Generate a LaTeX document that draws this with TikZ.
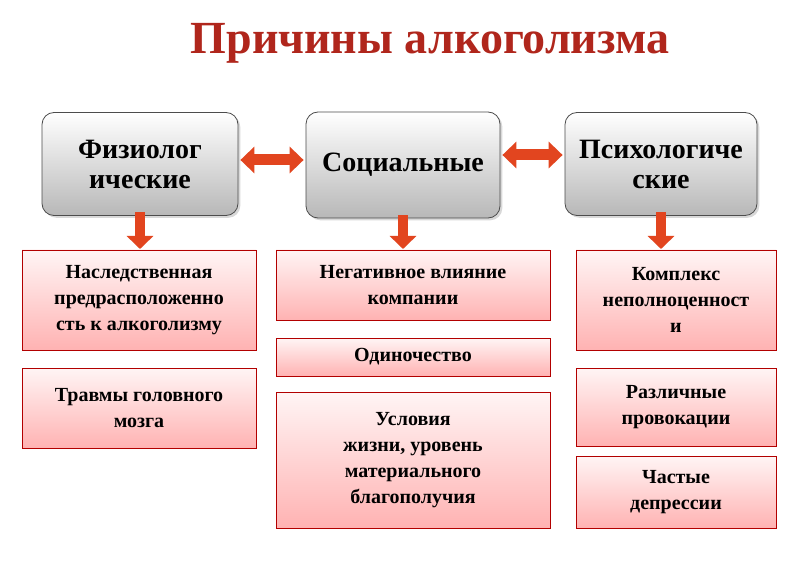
\documentclass[tikz,border=0pt]{standalone}
\usepackage{fontspec}
\setmainfont{Liberation Serif}
\usetikzlibrary{shadows,arrows.meta}
\definecolor{dred}{HTML}{B0261C}
\definecolor{ared}{HTML}{E2451F}
\tikzset{
 grey/.style={draw=black!70,line width=0.8pt,rounded corners=12pt,top color=white,bottom color=black!28,align=center,font=\fontsize{28}{30}\selectfont\bfseries,inner sep=0pt,drop shadow={opacity=0.3}},
 pink/.style={draw=red!70!black,line width=0.6pt,top color=red!4,bottom color=red!30,align=center,font=\fontsize{20}{26}\selectfont\bfseries,inner sep=0pt},
}
\begin{document}
\begin{tikzpicture}[x=1pt,y=-1pt]
\useasboundingbox (0,0) rectangle (800,561);
\fill[white] (0,0) rectangle (800,561);
\node[text=dred,font=\fontsize{46}{48}\selectfont\bfseries] (title) at (430,43) {Причины алкоголизма};
% grey boxes
\node[grey,minimum width=196pt,minimum height=103pt] (fiz) at (140,164) {Физиолог\\ические};
\node[grey,minimum width=194pt,minimum height=106pt] (soc) at (403,165) {Социальные};
\node[grey,minimum width=192pt,minimum height=103pt] (psy) at (661,164) {Психологиче\\ские};
% double arrows
\foreach \a/\b/\y in {fiz/soc/160,soc/psy/155}{
 \draw[ared,line width=11pt,{Triangle[length=14pt,width=26pt]}-{Triangle[length=14pt,width=26pt]}] ([xshift=2pt]\a.east|-0,\y) -- ([xshift=-2pt]\b.west|-0,\y);
}
% pink boxes
\node[pink,minimum width=234pt,minimum height=100pt] (f1) at (139,300) {Наследственная\\предрасположенно\\сть к алкоголизму};
\node[pink,minimum width=234pt,minimum height=80pt] (f2) at (139,408) {Травмы головного\\мозга};
\node[pink,minimum width=274pt,minimum height=70pt] (s1) at (413,285) {Негативное влияние\\компании};
\node[pink,minimum width=274pt,minimum height=38pt] (s2) at (413,357) {Одиночество};
\node[pink,minimum width=274pt,minimum height=136pt] (s3) at (413,460) {Условия\\жизни, уровень\\материального\\благополучия};
\node[pink,minimum width=200pt,minimum height=100pt] (p1) at (676,300) {Комплекс\\неполноценност\\и};
\node[pink,minimum width=200pt,minimum height=78pt] (p2) at (676,407) {Различные\\провокации};
\node[pink,minimum width=200pt,minimum height=72pt] (p3) at (676,492) {Частые\\депрессии};
% down arrows
\draw[ared,line width=10pt,-{Triangle[length=13pt,width=26pt]}] ([yshift=4pt]fiz.south) -- (fiz.south|-0,249);
\draw[ared,line width=10pt,-{Triangle[length=13pt,width=26pt]}] ([yshift=3pt]soc.south) -- (soc.south|-0,249);
\draw[ared,line width=10pt,-{Triangle[length=13pt,width=26pt]}] ([yshift=4pt]psy.south) -- (psy.south|-0,249);
\end{tikzpicture}
\end{document}
